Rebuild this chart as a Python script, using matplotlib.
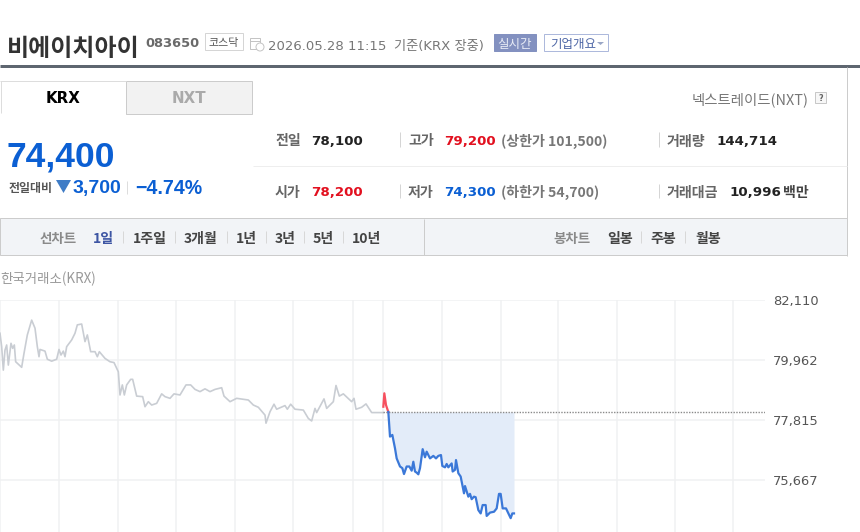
import matplotlib
matplotlib.use("Agg")
import matplotlib.pyplot as plt
from matplotlib.patches import Rectangle, Polygon

# ---------- data ----------
PREV_CLOSE = 78100
y_ticks = [82110, 79962, 77815, 75667]
x_grid = [0, 177, 354, 528, 706, 880, 1060, 1150, 1326, 1503, 1674, 1851, 2025, 2199]

hist_t = [0,5,10,15,20,25,33,38,43,47,65,72,82,95,105,112,117,120,135,142,155,170,177,183,190,195,200,215,225,232,
          245,255,262,272,285,292,298,315,330,342,355,360,367,373,380,392,398,410,428,435,445,455,470,485,495,510,522,
          540,558,572,585,600,615,630,645,665,672,690,710,745,760,775,795,798,810,822,830,855,862,872,885,910,925,935,
          945,950,972,980,1000,1008,1018,1030,1055,1062,1068,1085,1098,1115,1150]
hist_p = [80920,80440,79600,80320,80500,79780,80560,80380,80500,79900,79700,80200,80860,81390,81100,80440,80080,80340,80280,79990,79920,79990,80340,80140,80280,80080,80440,80680,80920,81220,
          81250,80620,80860,80260,80260,80080,80260,80020,79900,79870,79540,78710,79070,78710,79070,79270,79270,78670,78650,78290,78470,78350,78410,78750,78650,78590,78750,
          78710,79070,79070,78910,78830,78930,78830,78910,78970,78670,78470,78590,78530,78350,78270,77990,77700,78110,78380,78200,78330,78200,78380,78200,78170,77870,77780,
          78230,78080,78570,78230,78470,79050,78670,78750,78470,78590,78200,78270,78390,78080,78080]

up_t = [1150,1153,1158,1165]
up_p = [78290,78770,78350,78100]

down_t = [1165,1170,1177,1185,1190,1200,1207,1212,1220,1228,1235,1240,1245,1250,1255,1260,1268,1275,1280,1290,1300,1308,1315,1323,
          1327,1335,1340,1345,1355,1358,1365,1368,1375,1382,1392,1395,1405,1410,1415,1422,1427,1435,1442,1448,1457,1460,1470,1482,1490,1497,1502,1508,1518,1532,1537,1542]
down_p = [78100,77220,77280,76800,76440,76150,76090,75880,76150,76150,76000,76320,75970,75930,75870,76090,76770,76480,76680,76440,76530,76440,76530,76560,
          76170,76120,76240,76120,76260,75970,76030,76380,75910,75790,75190,75450,75070,75170,74980,75070,75050,74590,74470,74770,74770,74380,74500,74530,74650,75170,75170,74650,74650,74300,74470,74470]

period_labels = ["1일", "1주일", "3개월", "1년", "3년", "5년", "10년"]
candle_labels = ["일봉", "주봉", "월봉"]

# ---------- figure ----------
KR = ["Noto Sans CJK KR", "DejaVu Sans"]
DV = ["DejaVu Sans", "Noto Sans CJK KR"]
LB = ["Liberation Sans", "Noto Sans CJK KR"]
BLUE = "#0b5fd3"
RED = "#e2101f"

fig = plt.figure(figsize=(8.6, 5.32), dpi=100, facecolor="white")

# page chrome in pixel coordinates
bg = fig.add_axes([0, 0, 1, 1])
bg.set_xlim(0, 860); bg.set_ylim(532, 0); bg.axis("off")

def T(x, y, s, px=13, color="#333333", weight="normal", fam=KR, ha="left"):
    bg.text(x, y, s, fontsize=px * 0.72, color=color, fontweight=weight, family=fam, ha=ha, va="center_baseline")

def L(x0, y0, x1, y1, color="#cccccc", lw=1.0):
    bg.plot([x0, x1], [y0, y1], color=color, lw=lw * 0.72, solid_capstyle="butt")

def R(x, y, w, h, fc="white", ec="#cccccc", lw=1.0):
    bg.add_patch(Rectangle((x, y), w, h, fc=fc, ec=ec, lw=lw * 0.72))

# header
T(7, 46, "비에이치아이", 24, "#333333", "bold")
T(145, 42, "083650", 13, "#6a6a6a", "bold", DV)
R(205, 33, 38, 17, "white", "#d5d5d5")
T(224, 42, "코스닥", 11, "#555555", "normal", ha="center")
R(250, 38, 10, 11, "white", "#c4c4c4")
L(250, 41, 260, 41, "#c4c4c4")
bg.add_patch(plt.Circle((260, 47), 4, fc="white", ec="#c4c4c4", lw=0.7))
T(268, 45, "2026.05.28 11:15", 13.2, "#777777", "normal", DV)
T(394, 45, "기준(KRX 장중)", 13.2, "#777777", "normal", DV)
R(494, 34, 42, 17, "#8391c0", "#8391c0")
T(515, 43, "실시간", 12.5, "#e8ecf6", "normal", ha="center")
R(544, 34, 64, 17, "white", "#adb9dc")
T(550, 43, "기업개요", 12.5, "#4d66a6")
bg.add_patch(Polygon([(597, 42), (604, 42), (600.5, 45)], fc="#9aa6c6", ec="none"))
L(0, 66, 860, 66, "#5e6670", 3)
L(846.5, 67, 846.5, 256, "#cccccc", 1)

# tabs
R(126, 81, 126, 33, "#f2f2f2", "#cccccc")
L(0, 81, 126, 81, "#dddddd")
L(0.5, 81, 0.5, 113, "#dddddd")
T(63.5, 97, "KRX", 15, "#000000", "bold", DV, "center")
T(189, 97, "NXT", 15, "#aaaaaa", "bold", DV, "center")
T(809, 98, "넥스트레이드(NXT)", 14.4, "#777777", "normal", KR, "right")
R(815, 92, 11, 11, "#f7f7f7", "#c8c8c8")
T(820.5, 97.5, "?", 8, "#666666", "bold", DV, "center")

# current price
T(7, 154, "74,400", 35.5, BLUE, "bold", LB)
T(9, 187, "전일대비", 12, "#555555", "bold")
bg.add_patch(Polygon([(56, 180), (71, 180), (63.5, 193)], fc="#3f7cc6", ec="none"))
T(73, 187, "3,700", 19.5, BLUE, "bold", LB)
L(127, 181, 127, 194, "#dddddd")
T(135, 187, "−4.74%", 19.7, BLUE, "bold", LB)

# price table
L(253, 166, 847, 166, "#eeeeee")
for sx in (400, 659):
    L(sx, 132, sx, 147, "#d5d5d5"); L(sx, 184, sx, 198, "#d5d5d5")
LAB = "#666666"; VAL = "#222222"
T(275, 140, "전일", 14, LAB, "bold"); T(311, 140, "78,100", 13.4, VAL, "bold", DV)
T(408, 140, "고가", 14, LAB, "bold"); T(444, 140, "79,200", 13.4, RED, "bold", DV)
T(501, 140, "(상한가 101,500)", 14, "#777777", "bold")
T(667, 140, "거래량", 14, LAB, "bold"); T(716, 140, "144,714", 13.4, VAL, "bold", DV)
T(275, 191, "시가", 14, LAB, "bold"); T(311, 191, "78,200", 13.4, RED, "bold", DV)
T(408, 191, "저가", 14, LAB, "bold"); T(444, 191, "74,300", 13.4, BLUE, "bold", DV)
T(501, 191, "(하한가 54,700)", 14, "#777777", "bold")
T(667, 191, "거래대금", 14, LAB, "bold"); T(729, 191, "10,996", 13.4, VAL, "bold", DV)
T(783, 191, "백만", 14, "#444444", "bold")

# toolbar
R(0, 218, 846.5, 37, "#f2f4f7", "#cccccc")
L(424, 219, 424, 255, "#cccccc")
T(40, 237, "선차트", 13.5, "#8a8a8a", "bold")
for x, s, c in zip([93, 133, 184, 236, 275, 313, 352], period_labels, ["#3d55a3"] + ["#444444"] * 6):
    T(x, 237, s, 14, c, "bold")
for sx in (123, 175, 227, 266, 304, 343):
    L(sx, 231, sx, 243, "#d8d8d8")
T(553, 237, "봉차트", 13.5, "#8a8a8a", "bold")
for x, s in zip([607, 650, 695], candle_labels):
    T(x, 237, s, 14, "#444444", "bold")
for sx in (641, 685):
    L(sx, 231, sx, 243, "#d8d8d8")

T(0, 277, "한국거래소(KRX)", 13.4, "#999999")

# price chart
ax = fig.add_axes([0, 0, 765 / 860, 232 / 532])
ax.patch.set_alpha(0)
ax.set_xlim(0, 2295)
ax.set_ylim(73805, 82110)
for s in ax.spines.values():
    s.set_visible(False)
ax.set_xticks(x_grid); ax.set_xticklabels([])
ax.set_yticks(y_ticks)
ax.set_yticklabels([f"{v:,}" for v in y_ticks], fontsize=13 * 0.72, color="#555555", family=DV)
ax.yaxis.tick_right()
ax.tick_params(length=0, pad=6)
ax.grid(True, color="#f0f1f2", lw=1.1)
ax.set_axisbelow(True)

ax.fill_between(down_t, down_p, PREV_CLOSE, color="#e3ecf9", lw=0, zorder=1)
ax.plot(hist_t, hist_p, color="#c9cdd3", lw=1.2, zorder=2)
ax.axhline(PREV_CLOSE, xmin=1150 / 2295, color="#8a8a8a", lw=1, ls=(0, (1, 1)), zorder=3)
ax.plot(up_t, up_p, color="#f6505f", lw=1.6, zorder=4)
ax.plot(down_t, down_p, color="#3b78d8", lw=1.6, zorder=4)

for t in ax.get_yticklabels():
    t.set_clip_on(False)

fig.savefig("out.png", dpi=100)
